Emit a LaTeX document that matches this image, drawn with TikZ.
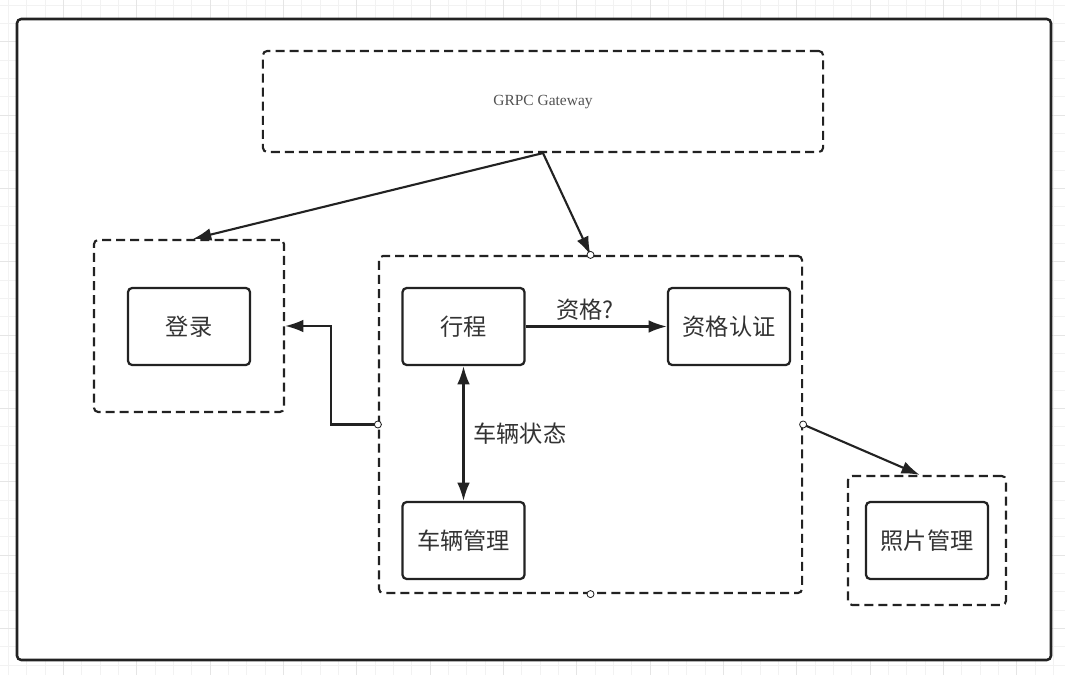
\documentclass[tikz,border=0pt]{standalone}
\usepackage{fontspec}
\setmainfont{Liberation Serif}
\newfontfamily\cjk{Noto Sans CJK SC}
\usetikzlibrary{arrows.meta}

\definecolor{inkgray}{HTML}{222222}
\definecolor{textgray}{HTML}{333333}

\begin{document}
\begin{tikzpicture}[
        x=0.025cm, y=-0.025cm,
        minorgrid/.style={draw=black!5, line width=0.4pt},
        majorgrid/.style={draw=black!10, line width=0.5pt},
        dashbox/.style={draw=inkgray, line width=1.5pt, dash pattern=on 6.4pt off 3.6pt,
            rounded corners=3pt, minimum width=#1},
        solidbox/.style={draw=inkgray, line width=1.6pt, rounded corners=3pt,
            minimum width=3.05cm, minimum height=1.925cm, text=textgray,
            font=\cjk\fontsize{16.5}{18}\selectfont},
        flow/.style={draw=inkgray, line width=1.5pt, -{Latex[length=13pt,width=9pt]}},
        port/.style={circle, draw=inkgray, fill=white, line width=0.6pt, inner sep=0pt, minimum size=5pt}
    ]
        \useasboundingbox (0,0) rectangle (1065,675);

        % background grid
        \foreach \i in {0,...,58} \draw[minorgrid] ({8.33+18.333*\i},0) -- ++(0,675);
        \foreach \i in {0,...,37} \draw[minorgrid] (0,{5+18.333*\i}) -- ++(1065,0);
        \foreach \i in {0,...,14} \draw[majorgrid] ({63.33+73.33*\i},0) -- ++(0,675);
        \foreach \i in {0,...,9} \draw[majorgrid] (0,{41.67+73.33*\i}) -- ++(1065,0);

        % frame
        \draw[inkgray, fill=white, line width=1.8pt, rounded corners=3pt] (17,19) rectangle (1051,660);

        % containers
        \node[dashbox=14cm, minimum height=2.525cm] (gateway) at (543,101.5) {};
        \node[text=textgray!85, font=\fontsize{11}{13}\selectfont] (gwlabel) at (543,102) {GRPC Gateway};
        \node[dashbox=4.75cm, minimum height=4.3cm] (login) at (189,326) {};
        \node[dashbox=10.575cm, minimum height=8.425cm] (main) at (590.5,424.5) {};
        \node[dashbox=3.95cm, minimum height=3.225cm] (photo) at (927,540.5) {};

        % services
        \node[solidbox] (loginsvc) at (189,326.5) {登录};
        \node[solidbox] (trip) at (463.5,326.5) {行程};
        \node[solidbox] (cert) at (729,326.5) {资格认证};
        \node[solidbox] (car) at (463.5,540.5) {车辆管理};
        \node[solidbox] (photosvc) at (927,540.5) {照片管理};

        % connectors
        \draw[flow] (gateway.south) -- ([xshift=0.1cm]login.north);
        \draw[flow] (gateway.south) -- (main.north);
        \draw[flow] (main.west) -- ++(-47,0) |- (login.east);
        \draw[flow] (main.east) -- ([xshift=-0.18cm]photo.north);
        \draw[flow] (trip.east) -- node[above, pos=0.42, text=textgray, font=\cjk\fontsize{16.5}{18}\selectfont] (qlabel) {资格?} (cert.west);
        \draw[flow, {Latex[length=13pt,width=9pt]}-{Latex[length=13pt,width=9pt]}] (trip.south) -- node[right, xshift=3pt, text=textgray, font=\cjk\fontsize{16.5}{18}\selectfont] (statelabel) {车辆状态} (car.north);

        \foreach \a in {north,west,east,south} \node[port] at (main.\a) {};
    \end{tikzpicture}
\end{document}
